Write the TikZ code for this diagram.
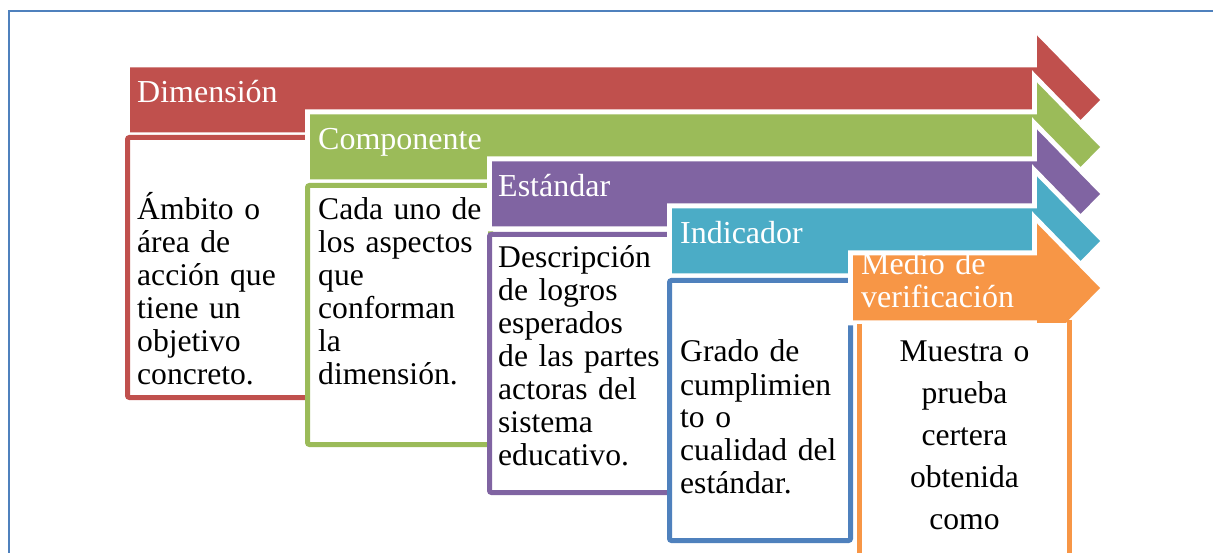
\documentclass[tikz,border=0pt]{standalone}
\usepackage{fontspec}
\setmainfont{Liberation Serif}
\definecolor{dimred}{HTML}{C0504D}
\definecolor{compgreen}{HTML}{9BBB59}
\definecolor{stdpurple}{HTML}{8064A2}
\definecolor{indteal}{HTML}{4BACC6}
\definecolor{indblue}{HTML}{4F81BD}
\definecolor{medorange}{HTML}{F79646}
\definecolor{frameblue}{HTML}{4F81BD}

\begin{document}
\begin{tikzpicture}[x=1pt, y=-1pt,
    band/.style={preaction={draw=white, line width=10pt}},
    descbox/.style={line width=5pt, fill=white, rounded corners=2pt},
    bandtext/.style={anchor=base west, inner sep=0pt, text=white,
      font=\fontsize{32}{33}\selectfont},
    desctext/.style={anchor=base west, inner sep=0pt, text width=175pt,
      align=left, font=\fontsize{31.6}{33}\selectfont}]
        \useasboundingbox (0,0) rectangle (1213,553);
        \clip (0,0) rectangle (1213,553);

        % Frame
        \draw[frameblue, line width=2pt] (8.5,11) rectangle (1240,590);

        % Dimension
        \fill[band, dimred, shift={(0,100)}] (130,-32.5) -- (1037,-32.5) -- (1037,-64.5)
          -- (1100,0) -- (1037,64.5) -- (1037,32.5) -- (130,32.5) -- cycle;
        \draw[descbox, draw=dimred] (127.5,137.5) rectangle (308.5,397.5);
        \node[bandtext] (dimtitle) at (137,102.5) {Dimensión};
        \node[desctext] (dimtext) at (137,220)
          {Ámbito o\\área de\\acción que\\tiene un\\objetivo\\concreto.};

        % Component
        \fill[band, compgreen, shift={(0,147)}] (310,-32.5) -- (1037,-32.5) -- (1037,-64.5)
          -- (1100,0) -- (1037,64.5) -- (1037,32.5) -- (310,32.5) -- cycle;
        \draw[descbox, draw=compgreen] (307.5,185.5) rectangle (490.5,444.5);
        \node[bandtext] (comptitle) at (318,149.5) {Componente};
        \node[desctext] (comptext) at (318,220)
          {Cada uno de\\los aspectos\\que\\conforman\\la\\dimensión.};

        % Standard
        \fill[band, stdpurple, shift={(0,194)}] (492,-32.5) -- (1037,-32.5) -- (1037,-64.5)
          -- (1100,0) -- (1037,64.5) -- (1037,32.5) -- (492,32.5) -- cycle;
        \draw[descbox, draw=stdpurple] (489.5,234.5) rectangle (672.5,492.5);
        \node[bandtext] (stdtitle) at (498,196.5) {Estándar};
        \node[desctext] (stdtext) at (498,268)
          {Descripción\\de logros\\esperados\\de las partes\\actoras del\\sistema\\educativo.};

        % Indicator
        \fill[band, indteal, shift={(0,241)}] (672,-32.5) -- (1037,-32.5) -- (1037,-64.5)
          -- (1100,0) -- (1037,64.5) -- (1037,32.5) -- (672,32.5) -- cycle;
        \draw[descbox, draw=indblue] (669.5,280.5) rectangle (850.5,540.5);
        \node[bandtext] (indtitle) at (680,244) {Indicador};
        \node[desctext] (indtext) at (680,362)
          {Grado de\\cumplimien\\to o\\cualidad del\\estándar.};

        % Means of verification (box open at the top, over the arrow head)
        \fill[band, medorange, shift={(0,288)}] (853,-32.5) -- (1037,-32.5) -- (1037,-64.5)
          -- (1100,0) -- (1037,64.5) -- (1037,32.5) -- (853,32.5) -- cycle;
        \fill[white] (857,323.5) rectangle (1072,600);
        \draw[medorange, line width=5pt] (859.5,324) -- (859.5,600)
          (1069.5,320) -- (1069.5,600);
        \node[bandtext, text width=200pt, align=left] (medtitle) at (861,275)
          {Medio de\\verificación};
        \node[desctext, anchor=base, text width=200pt, align=center,
          font=\fontsize{31.6}{42}\selectfont] (medtext) at (964.5,362)
          {Muestra o\\prueba\\certera\\obtenida\\como};
    \end{tikzpicture}
\end{document}
